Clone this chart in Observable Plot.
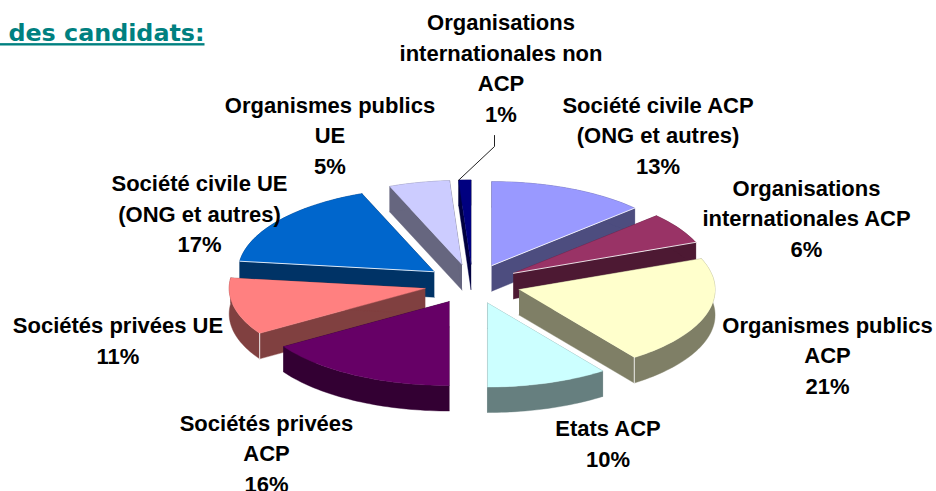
<!DOCTYPE html>
<html lang="fr">
<head>
<meta charset="utf-8">
<script src="https://cdn.jsdelivr.net/npm/d3@7"></script>
<script src="https://cdn.jsdelivr.net/npm/@observablehq/plot@0.6"></script>
<style>
html,body{margin:0;padding:0;background:#fff;overflow:hidden}
svg{display:block}
.ttl text{text-decoration:underline}
</style>
</head>
<body>
<div id="chart"></div>
<script>
// Data, clockwise from twelve o'clock
const categories = ["Société civile ACP","Organisations internationales ACP","Organismes publics ACP","Etats ACP","Sociétés privées ACP","Sociétés privées UE","Société civile UE","Organismes publics UE","Organisations internationales non ACP"];
const shares = [13,6,21,10,16,11,17,5,1];
const labelLines = [
  ["Société civile ACP","(ONG et autres)"],
  ["Organisations","internationales ACP"],
  ["Organismes publics","ACP"],
  ["Etats ACP"],
  ["Sociétés privées","ACP"],
  ["Sociétés privées UE"],
  ["Société civile UE","(ONG et autres)"],
  ["Organismes publics","UE"],
  ["Organisations","internationales non","ACP"]
];
const topColours = ["#9999ff","#993366","#ffffcc","#ccffff","#660066","#ff8080","#0066cc","#ccccff","#000080"];
const sideColours = ["#4d4d7f","#4d1933","#7f7f66","#667f7f","#330033","#804040","#003366","#66667f","#000040"];

// Layout of the tilted, exploded pie
const cx = 472, cy = 283.5, rx = 196, ry = 84, depth = 25.5, explodeX = 48.5, explodeY = 20;
const labelX = [657.5,806,827,607.5,266,117.5,199,329.5,500.5];
const labelY = [135.5,218.5,355.5,444,453.5,341,214,135.5,68.5];
const lineStep = 30.5;
const highlighted = ["Société civile ACP:end","Organisations internationales ACP:end","Société civile UE:start"];
const leaderAnchor = [[494,135],[494,146]];

const total = d3.sum(shares);
const toAngle = v => v / total * 2 * Math.PI;
let running = 0;
const slices = categories.map((name, i) => {
  const a0 = toAngle(running); running += shares[i]; const a1 = toAngle(running);
  const mid = (a0 + a1) / 2;
  const ax = cx + explodeX * Math.sin(mid), ay = cy - explodeY * Math.cos(mid);
  const steps = Math.max(4, Math.ceil((a1 - a0) * 40));
  const rim = d3.range(steps + 1).map(k => {
    const a = a0 + (a1 - a0) * k / steps;
    return [ax + rx * Math.sin(a), ay - ry * Math.cos(a)];
  });
  return {name, i, a0, a1, ax, ay, rim, share: shares[i]};
});
const down = p => [p[0], p[1] + depth];

const faces = [];
const addFace = (id, colour, pts) => pts.forEach(p => faces.push({id, colour, px: p[0], py: p[1]}));
[...slices].sort((a, b) => a.ay - b.ay).forEach(s => {
  const apex = [s.ax, s.ay], side = sideColours[s.i];
  const first = s.rim[0], last = s.rim[s.rim.length - 1];
  addFace(s.name + "-f0", side, [apex, first, down(first), down(apex)]);
  addFace(s.name + "-f1", side, [apex, last, down(last), down(apex)]);
  addFace(s.name + "-rim", side, [...s.rim, ...s.rim.map(down).reverse()]);
  addFace(s.name + "-top", topColours[s.i], [apex, ...s.rim]);
});

const ridges = [];
slices.forEach(s => {
  const apex = [s.ax, s.ay];
  [["start", s.rim[0]], ["end", s.rim[s.rim.length - 1]]].forEach(([k, p]) => {
    if (highlighted.includes(s.name + ":" + k)) {
      ridges.push({id: s.name + k, px: apex[0], py: apex[1]}, {id: s.name + k, px: p[0], py: p[1]});
    }
  });
});
// pale vertical corner edges on the two front corners
[[2, "end"], [5, "start"]].forEach(([i, k]) => {
  const s = slices[i], p = k === "end" ? s.rim[s.rim.length - 1] : s.rim[0];
  ridges.push({id: "c" + i, px: p[0], py: p[1]}, {id: "c" + i, px: p[0], py: p[1] + depth});
});

const smallest = slices[8];
const leader = [...leaderAnchor, smallest.rim[0]].map(p => ({px: p[0], py: p[1]}));

// one row per text line
const labels = slices.flatMap((s, i) => {
  const lines = [...labelLines[i], s.share + "%"];
  return lines.map((text, k) => ({text, lx: labelX[i], ly: labelY[i] + (k - (lines.length - 1) / 2) * lineStep}));
});

const chart = Plot.plot({
  width: 936, height: 491,
  margin: 0,
  x: {type: "identity"},
  y: {type: "identity"},
  color: {type: "identity"},
  style: {background: "#fff"},
  marks: [
    Plot.line(faces, {x: "px", y: "py", z: "id", fill: "colour", stroke: "colour", strokeWidth: 0.4, curve: "linear"}),
    Plot.line(ridges, {x: "px", y: "py", z: "id", stroke: "#fff", strokeWidth: 1, strokeOpacity: 0.85, curve: "linear"}),
    Plot.line(leader, {x: "px", y: "py", stroke: "#222", strokeWidth: 1, curve: "linear"}),
    Plot.text(labels, {x: "lx", y: "ly", text: "text", textAnchor: "middle", lineAnchor: "middle",
      fontFamily: "Liberation Sans", fontWeight: "bold", fontSize: 22, fill: "#000"}),
    Plot.text(["e des candidats:"], {x: () => 204, y: () => 33, text: d => d, textAnchor: "end", lineAnchor: "middle",
      fontFamily: "DejaVu Sans", fontWeight: "bold", fontSize: 23.8, fill: "#008080", className: "ttl"})
  ]
});
document.getElementById("chart").appendChild(chart);
</script>
</body>
</html>
